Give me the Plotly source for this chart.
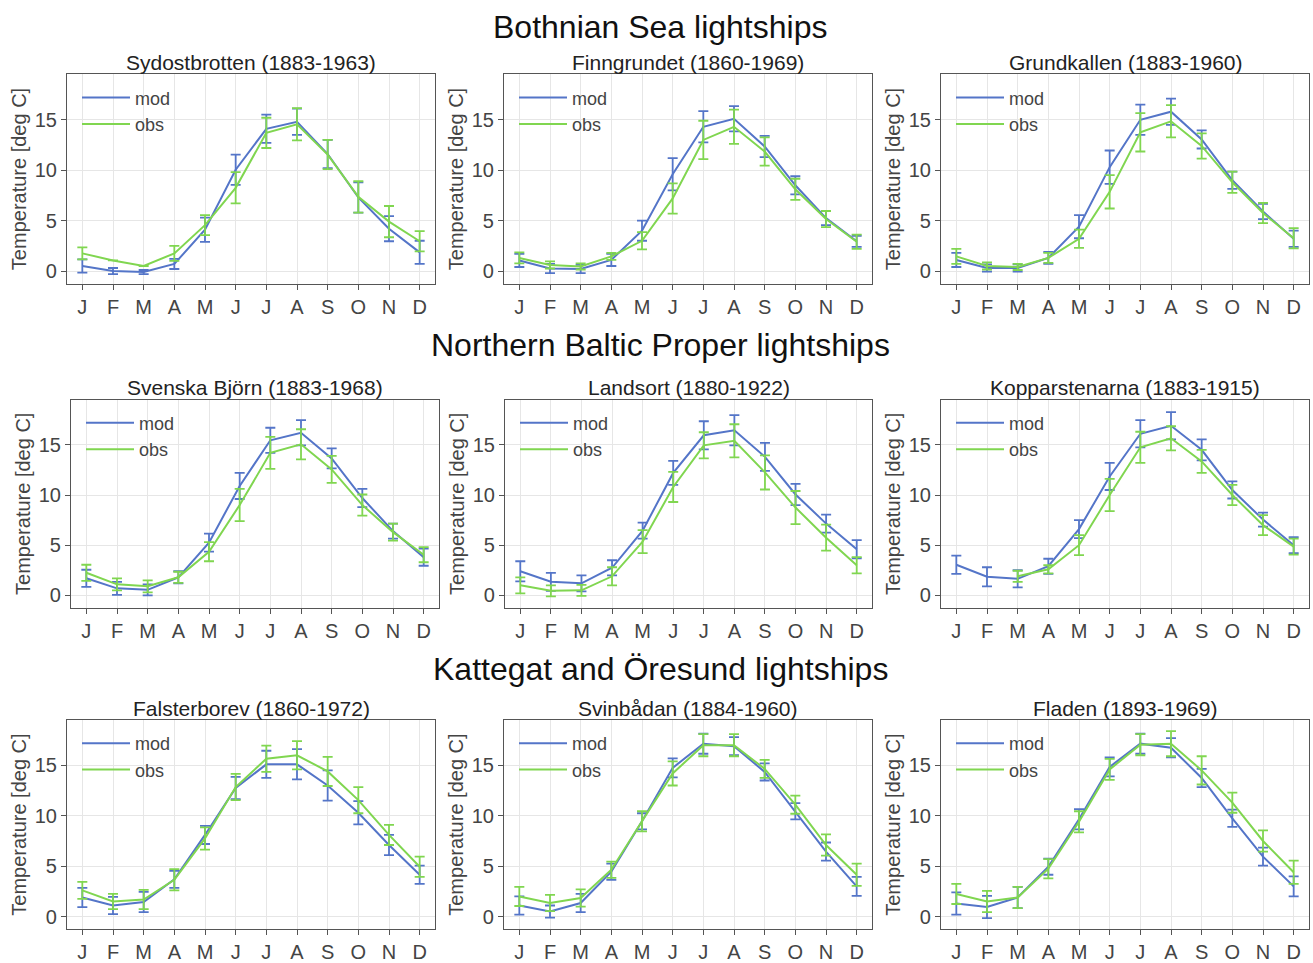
import plotly.graph_objects as go

# ---------------- data ----------------
month_labels = ["J", "F", "M", "A", "M", "J", "J", "A", "S", "O", "N", "D"]
month_num = [1, 2, 3, 4, 5, 6, 7, 8, 9, 10, 11, 12]

row_titles = ["Bothnian Sea lightships",
              "Northern Baltic Proper lightships",
              "Kattegat and Öresund lightships"]

station_titles = ["Sydostbrotten (1883-1963)", "Finngrundet (1860-1969)", "Grundkallen (1883-1960)",
                  "Svenska Björn (1883-1968)", "Landsort (1880-1922)", "Kopparstenarna (1883-1915)",
                  "Falsterborev (1860-1972)", "Svinbådan (1884-1960)", "Fladen (1893-1969)"]

sydostbrotten_mod = [0.5, 0.0, -0.1, 0.7, 4.1, 10.05, 14.1, 14.8, 11.6, 7.3, 4.2, 1.85]
sydostbrotten_mod_err = [0.65, 0.3, 0.2, 0.5, 1.2, 1.5, 1.4, 1.3, 1.4, 1.5, 1.25, 1.15]
sydostbrotten_obs = [1.75, 1.05, 0.5, 1.75, 4.55, 8.25, 13.7, 14.55, 11.55, 7.35, 4.9, 2.95]
sydostbrotten_obs_err = [0.6, None, None, 0.75, 1.0, 1.55, 1.5, 1.6, 1.45, 1.55, 1.55, 1.0]

finngrundet_mod = [1.05, 0.25, 0.2, 1.1, 4.0, 9.6, 14.3, 15.1, 12.35, 8.5, 5.25, 2.95]
finngrundet_mod_err = [0.65, 0.45, 0.4, 0.6, 1.0, 1.6, 1.55, 1.25, 1.05, 0.9, 0.7, 0.55]
finngrundet_obs = [1.3, 0.6, 0.45, 1.45, 3.0, 7.2, 13.0, 14.3, 11.85, 8.1, 5.15, 2.9]
finngrundet_obs_err = [0.55, 0.35, 0.3, 0.35, 0.85, 1.5, 1.9, 1.7, 1.4, 1.05, 0.8, 0.7]

grundkallen_mod = [1.1, 0.3, 0.3, 1.3, 4.4, 10.3, 15.0, 15.8, 13.05, 9.0, 5.9, 3.2]
grundkallen_mod_err = [0.7, 0.35, 0.35, 0.6, 1.15, 1.65, 1.5, 1.3, 0.9, 0.85, 0.75, 0.8]
grundkallen_obs = [1.45, 0.5, 0.4, 1.3, 3.2, 7.85, 13.75, 14.85, 12.4, 8.8, 5.75, 3.25]
grundkallen_obs_err = [0.75, 0.35, 0.3, 0.5, 0.9, 1.65, 1.9, 1.6, 1.25, 1.05, 1.0, 1.0]

svenska_bjorn_mod = [1.7, 0.7, 0.55, 1.8, 5.25, 10.9, 15.45, 16.2, 13.65, 9.7, 6.4, 3.8]
svenska_bjorn_mod_err = [0.85, 0.65, 0.55, 0.6, 0.9, 1.3, 1.25, 1.25, 1.0, 0.9, 0.75, 0.85]
svenska_bjorn_obs = [2.25, 1.1, 0.9, 1.8, 4.35, 9.0, 14.2, 15.05, 12.55, 9.0, 6.3, 4.05]
svenska_bjorn_obs_err = [0.8, 0.6, 0.6, 0.55, 0.95, 1.6, 1.6, 1.5, 1.35, 1.05, 0.85, 0.75]

landsort_mod = [2.4, 1.35, 1.2, 2.75, 6.45, 12.2, 15.95, 16.45, 13.8, 10.05, 7.15, 4.6]
landsort_mod_err = [1.0, 0.9, 0.8, 0.75, 0.8, 1.2, 1.4, 1.5, 1.4, 1.05, 0.9, 0.9]
landsort_obs = [1.0, 0.45, 0.5, 1.9, 5.35, 10.8, 14.95, 15.4, 12.25, 8.75, 5.75, 3.0]
landsort_obs_err = [0.8, 0.55, 0.55, 0.9, 1.15, 1.5, 1.3, 1.65, 1.7, 1.65, 1.3, 0.8]

kopparstenarna_mod = [3.05, 1.85, 1.65, 2.9, 6.6, 11.85, 16.1, 16.9, 14.5, 10.5, 7.55, 5.0]
kopparstenarna_mod_err = [0.9, 0.95, 0.85, 0.75, 0.9, 1.35, 1.35, 1.35, 1.05, 0.85, 0.7, 0.8]
kopparstenarna_obs = [None, None, 1.9, 2.6, 5.0, 10.0, 14.75, 15.65, 13.35, 10.0, 7.0, 4.85]
kopparstenarna_obs_err = [None, None, 0.55, 0.4, 1.0, 1.6, 1.55, 1.2, 1.15, 1.0, 1.0, 0.8]

falsterborev_mod = [1.9, 1.1, 1.45, 3.7, 8.1, 12.75, 15.1, 15.1, 13.0, 10.3, 7.1, 4.15]
falsterborev_mod_err = [0.95, 0.85, 1.0, 0.85, 0.9, 1.1, 1.35, 1.5, 1.5, 1.15, 1.0, 0.9]
falsterborev_obs = [2.6, 1.5, 1.7, 3.65, 7.75, 12.85, 15.65, 16.0, 14.4, 11.55, 8.1, 4.95]
falsterborev_obs_err = [0.85, 0.75, 0.95, 1.05, 1.1, 1.3, 1.3, 1.4, 1.45, 1.3, 1.0, 1.0]

svinbadan_mod = [1.1, 0.5, 1.35, 4.45, 9.45, 14.75, 17.15, 16.9, 14.35, 10.45, 6.45, 3.0]
svinbadan_mod_err = [0.9, 0.6, 0.9, 0.8, 0.8, 0.95, 1.0, 0.9, 0.85, 0.8, 0.9, 0.95]
svinbadan_obs = [2.0, 1.35, 1.85, 4.65, 9.45, 14.2, 17.0, 17.0, 14.65, 11.1, 7.1, 4.15]
svinbadan_obs_err = [0.95, 0.8, 0.85, 0.8, 1.0, 1.2, 1.1, 1.1, 0.9, 0.9, 1.05, 1.1]

fladen_mod = [1.3, 0.95, 1.9, 4.95, 9.65, 14.85, 17.15, 16.75, 13.75, 9.75, 5.95, 3.0]
fladen_mod_err = [1.1, 1.1, 1.05, 0.8, 1.0, 0.95, 1.0, 0.95, 0.9, 0.85, 0.9, 1.0]
fladen_obs = [2.25, 1.5, 1.9, 4.75, 9.4, 14.6, 17.05, 17.15, 14.5, 11.3, 7.5, 4.4]
fladen_obs_err = [1.0, 1.05, 1.05, 0.95, 1.05, 1.05, 1.05, 1.25, 1.4, 1.0, 1.05, 1.15]

panels = [
    (sydostbrotten_mod, sydostbrotten_mod_err, sydostbrotten_obs, sydostbrotten_obs_err),
    (finngrundet_mod, finngrundet_mod_err, finngrundet_obs, finngrundet_obs_err),
    (grundkallen_mod, grundkallen_mod_err, grundkallen_obs, grundkallen_obs_err),
    (svenska_bjorn_mod, svenska_bjorn_mod_err, svenska_bjorn_obs, svenska_bjorn_obs_err),
    (landsort_mod, landsort_mod_err, landsort_obs, landsort_obs_err),
    (kopparstenarna_mod, kopparstenarna_mod_err, kopparstenarna_obs, kopparstenarna_obs_err),
    (falsterborev_mod, falsterborev_mod_err, falsterborev_obs, falsterborev_obs_err),
    (svinbadan_mod, svinbadan_mod_err, svinbadan_obs, svinbadan_obs_err),
    (fladen_mod, fladen_mod_err, fladen_obs, fladen_obs_err),
]

# ---------------- layout geometry (pixels) ----------------
W, H = 1313, 963
col_px = [(67, 435), (504, 872), (941, 1309)]
col_px_row2 = [(71, 439), (505, 872), (941, 1309)]
row_px = [(75, 286), (403, 613), (726, 937)]
row_title_y = [27, 348, 675]
sub_title_y = [63, 391, 714]


def px_x(p):
    return p / W


def px_y(p):
    return 1 - p / H


MOD_COLOR = "#5475c8"
OBS_COLOR = "#80d650"
FONT = "Liberation Sans"
TXT = "#444444"

fig = go.Figure()
layout = dict(
    width=W, height=H,
    margin=dict(l=0, r=0, t=0, b=0),
    paper_bgcolor="white", plot_bgcolor="white",
    font=dict(family=FONT, color=TXT, size=19),
    annotations=[], showlegend=True,
)

for i, (mod, mod_err, obs, obs_err) in enumerate(panels):
    r, c = divmod(i, 3)
    n = "" if i == 0 else str(i + 1)
    leg = "legend" if i == 0 else f"legend{i + 1}"
    x0, x1 = (col_px_row2 if r == 1 else col_px)[c]
    t0, t1 = row_px[r]
    fig.add_trace(go.Scatter(
        x=month_num, y=mod, name="mod", mode="lines",
        line=dict(color=MOD_COLOR, width=2),
        error_y=dict(type="data", array=mod_err, visible=True, color=MOD_COLOR, thickness=1.8, width=5),
        xaxis="x" + n, yaxis="y" + n, legend=leg))
    fig.add_trace(go.Scatter(
        x=month_num, y=obs, name="obs", mode="lines",
        line=dict(color=OBS_COLOR, width=2),
        error_y=dict(type="data", array=obs_err, visible=True, color=OBS_COLOR, thickness=1.8, width=5),
        xaxis="x" + n, yaxis="y" + n, legend=leg))

    layout["xaxis" + n] = dict(
        domain=[px_x(x0), px_x(x1)], anchor="y" + n, range=[0.5, 12.5],
        tickmode="array", tickvals=month_num, ticktext=month_labels,
        showgrid=True, gridcolor="#e6e6e6", gridwidth=1, zeroline=False,
        showline=True, linecolor="#555555", linewidth=1.2, mirror=True,
        ticks="outside", ticklen=5, tickcolor="#555555",
        tickfont=dict(size=20, color=TXT, family=FONT), fixedrange=True)
    layout["yaxis" + n] = dict(
        domain=[px_y(t1), px_y(t0)], anchor="x" + n, range=[-1.25, 19.5],
        tickmode="array", tickvals=[0, 5, 10, 15],
        showgrid=True, gridcolor="#e6e6e6", gridwidth=1, zeroline=False,
        showline=True, linecolor="#555555", linewidth=1.2, mirror=True,
        ticks="outside", ticklen=5, tickcolor="#555555",
        tickfont=dict(size=20, color=TXT, family=FONT),
        title=dict(text="Temperature [deg C]", font=dict(size=20, color=TXT, family=FONT), standoff=2),
        fixedrange=True)
    layout[leg] = dict(
        x=px_x(x0 + 10), y=px_y(t0 + 5), xanchor="left", yanchor="top",
        bgcolor="rgba(0,0,0,0)", borderwidth=0,
        font=dict(size=18, color=TXT, family=FONT), itemwidth=48, tracegroupgap=0)
    layout["annotations"].append(dict(
        text=station_titles[i], x=px_x((x0 + x1) / 2), y=px_y(sub_title_y[r]),
        xref="paper", yref="paper", showarrow=False, xanchor="center", yanchor="middle",
        font=dict(size=21, color="#222222", family=FONT)))

for r in range(3):
    layout["annotations"].append(dict(
        text=row_titles[r], x=px_x(660), y=px_y(row_title_y[r]),
        xref="paper", yref="paper", showarrow=False, xanchor="center", yanchor="middle",
        font=dict(size=32, color="#111111", family=FONT)))

fig.update_layout(**layout)
fig.write_html(
    "out.html",
    config={"displayModeBar": False},
    post_script="document.body.style.margin='0px';document.body.style.overflow='hidden';",
)
